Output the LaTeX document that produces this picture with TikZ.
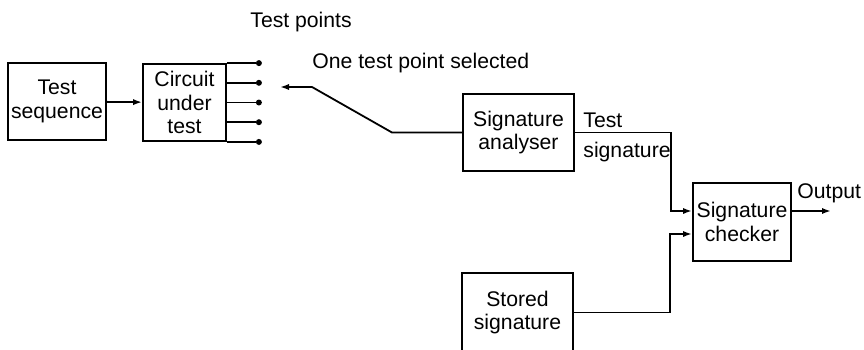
\documentclass[tikz,border=0pt]{standalone}
\usepackage{fontspec}
\setmainfont{Liberation Sans}
\usetikzlibrary{arrows.meta,calc}
\tikzset{
  blk/.style={draw=black,line width=.9pt,align=center,inner sep=0pt},
  lnk/.style={draw=black,line width=.9pt},
  arr/.style={-{Latex[length=4.5pt,width=3.1pt]},line width=.9pt,draw=black},
  tpt/.style={circle,fill=black,minimum size=3pt,inner sep=0pt},
  lb/.style={inner sep=0pt,anchor=base west},
}

\begin{document}
\begin{tikzpicture}[x=.5pt,y=-.5pt,font=\fontsize{10.6}{11.8}\selectfont]
\useasboundingbox (0,0) rectangle (864,349);
% blocks
\node[blk,minimum width=49pt,minimum height=38.5pt] (seq) at (57,101.5) {Test\\sequence};
\node[blk,minimum width=41.5pt,minimum height=38.5pt] (cut) at (184.5,102.5) {Circuit\\under\\test};
\node[blk,minimum width=55.5pt,minimum height=38.5pt] (ana) at (518.5,132.5) {Signature\\analyser};
\node[blk,minimum width=49pt,minimum height=39pt] (chk) at (742,222) {Signature\\checker};
\node[blk,minimum width=55.5pt,minimum height=39.5pt] (sto) at (517.5,312.5) {Stored\\signature};
\draw[arr] (seq) -- (cut);
% test points
\foreach \f [count=\i] in {0,.25,.5,.75,1} {
  \node[tpt] (tp\i) at ($(cut.north east)!\f!(cut.south east)+(32,0)$) {};
  \draw[lnk] ($(cut.north east)!\f!(cut.south east)$) -- (tp\i);
}
\coordinate (sel) at (280,87);
\draw[arr] (ana.west) -- (392,132.5) -- (312,87) -- (sel);
\draw[arr] (ana.east) -- (671,132.5) |- ($(chk.west)+(0,-11)$);
\draw[arr] (sto.east) -- (670,312.5) |- ($(chk.west)+(0,12)$);
\coordinate (out) at (831,211);
\draw[arr] ($(chk.east)+(0,-11)$) -- (out);
% labels
\node[lb] (tpl) at (250,27) {Test points};
\node[lb] (sell) at (312,68) {One test point selected};
\node[lb] (tsa) at (583,127) {Test};
\node[lb] (tsb) at (583,157) {signature};
\node[lb] (outl) at (797,198) {Output};
\end{tikzpicture}
\end{document}
